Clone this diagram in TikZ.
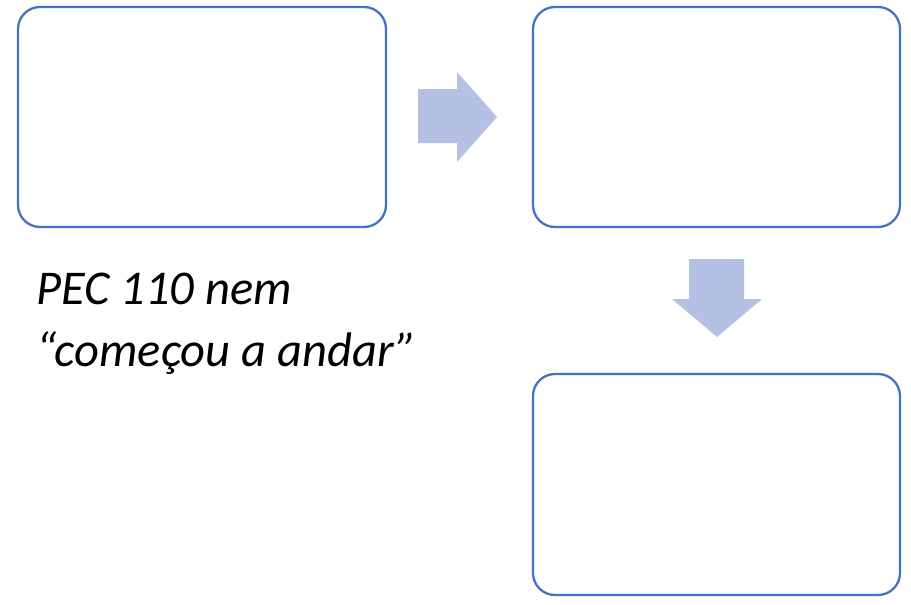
\documentclass[tikz,border=0pt]{standalone}
\usepackage{fontspec}
\setmainfont{Carlito}
\definecolor{boxblue}{HTML}{4472C4}
\definecolor{arrowfill}{HTML}{B4C0E4}
\begin{document}
\begin{tikzpicture}[x=1pt,y=-1pt,
  card/.style={draw=boxblue,line width=2.3pt,rounded corners=22pt,fill=white},
  blockarrow/.style={fill=arrowfill,draw=none},
  caption/.style={font=\itshape\fontsize{48.5}{58}\selectfont,anchor=base west,inner sep=0pt}]
\useasboundingbox (0,0) rectangle (911,605);
\draw[card] (18,7) rectangle (386,227);
\node[inner sep=0pt] (b1) at (202,117) {};
\draw[card] (533,7) rectangle (900,227);
\node[inner sep=0pt] (b2) at (716,117) {};
\draw[card] (533,374) rectangle (900,595);
\node[inner sep=0pt] (b3) at (716,484) {};
% right block arrow
\fill[blockarrow] (418,89) -- (457,89) -- (457,72) -- (497,117) -- (457,162) -- (457,143) -- (418,143) -- cycle;
% down block arrow
\fill[blockarrow] (689,259) -- (744,259) -- (744,299) -- (762,299) -- (717,337) -- (672,299) -- (689,299) -- cycle;
\node[caption] (t1) at (36,304) {PEC 110 nem};
\node[caption] (t2) at (36,366) {“começou a andar”};
\end{tikzpicture}
\end{document}
